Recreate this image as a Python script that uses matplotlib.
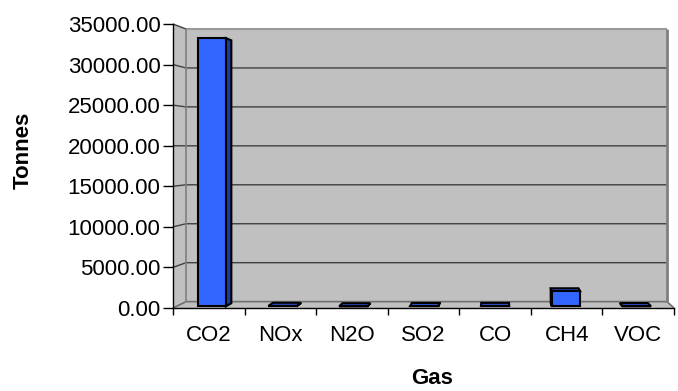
import matplotlib
matplotlib.use("Agg")
import matplotlib.pyplot as plt
from matplotlib.patches import Polygon
import numpy as np

plt.rcParams["font.family"] = ["Liberation Sans", "DejaVu Sans"]

# Emissions by gas (tonnes)
gases = ["CO2", "NOx", "N2O", "SO2", "CO", "CH4", "VOC"]
tonnes = [33400, 60, 5, 40, 50, 1900, 20]
y_ticks = [0, 5000, 10000, 15000, 20000, 25000, 30000, 35000]

W, H = 678, 391
fig = plt.figure(figsize=(W / 100, H / 100), dpi=100)
fig.patch.set_facecolor("white")
ax = fig.add_axes([173 / W, (H - 308) / H, 501 / W, 284 / H])
x_lo, x_hi = -0.5, len(gases) - 0.5
y_lo, y_hi = y_ticks[0], y_ticks[-1]
ax.set_xlim(x_lo, x_hi)
ax.set_ylim(y_lo, y_hi)
ax.patch.set_visible(False)

# simple perspective: points recede toward a vanishing point (data coords)
VX, VY = 4.04, 19600
S_WALL = 0.96      # depth of back wall
S_BAR_F = 0.99     # bar front face depth
S_BAR_B = 0.97     # bar back face depth


def proj(x, y, s):
    return (VX + s * (x - VX), VY + s * (y - VY))


def poly(pts, **kw):
    p = Polygon(pts, closed=True, transform=ax.transData, clip_on=False, **kw)
    ax.add_patch(p)
    return p


def line(pts, **kw):
    xs, ys = zip(*pts)
    ax.plot(xs, ys, clip_on=False, solid_capstyle="butt", **kw)


wall = "#C0C0C0"
# side wall, back wall, floor
poly([proj(x_lo, y_lo, 1), proj(x_lo, y_hi, 1), proj(x_lo, y_hi, S_WALL),
      proj(x_lo, y_lo, S_WALL)], fc=wall, ec="none", zorder=1)
poly([proj(x_lo, y_lo, S_WALL), proj(x_hi, y_lo, S_WALL),
      proj(x_hi, y_hi, S_WALL), proj(x_lo, y_hi, S_WALL)], fc=wall, ec="none", zorder=1)
poly([proj(x_lo, y_lo, 1), proj(x_hi, y_lo, 1), proj(x_hi, y_lo, S_WALL),
      proj(x_lo, y_lo, S_WALL)], fc=wall, ec="none", zorder=1)

# gridlines on side and back walls
for v in y_ticks[1:-1]:
    line([proj(x_lo, v, 1), proj(x_lo, v, S_WALL), proj(x_hi, v, S_WALL)],
         color="#404040", lw=1.0, zorder=2)
line([proj(x_lo, y_lo, 1), proj(x_lo, y_lo, S_WALL), proj(x_hi, y_lo, S_WALL),
      proj(x_hi, y_lo, 1)], color="#707070", lw=1.2, zorder=2)
# wall outline
line([proj(x_lo, y_hi, 1), proj(x_lo, y_hi, S_WALL)], color="#404040", lw=1.0, zorder=2)
line([proj(x_lo, y_hi, S_WALL), proj(x_hi, y_hi, S_WALL)], color="#9A9A9A", lw=1.5, zorder=2)
line([proj(x_hi, y_hi, S_WALL), proj(x_hi, y_lo, S_WALL)], color="#808080", lw=2.0, zorder=2)
line([proj(x_lo, y_hi, S_WALL), proj(x_lo, y_lo, S_WALL)], color="#808080", lw=1.2, zorder=2)

# 3-D columns
front_c, side_c, top_c = "#3366FF", "#1F3A99", "#2A55D9"
half = 0.2
edge_w = 1.5
for i, v in enumerate(tonnes):
    x0, x1 = i - half, i + half
    if x1 < VX:
        poly([proj(x1, 0, S_BAR_F), proj(x1, 0, S_BAR_B), proj(x1, v, S_BAR_B),
              proj(x1, v, S_BAR_F)], fc=side_c, ec="black", lw=edge_w, zorder=4)
    if x0 > VX:
        poly([proj(x0, 0, S_BAR_F), proj(x0, 0, S_BAR_B), proj(x0, v, S_BAR_B),
              proj(x0, v, S_BAR_F)], fc=side_c, ec="black", lw=edge_w, zorder=4)
    if v < VY:
        poly([proj(x0, v, S_BAR_F), proj(x1, v, S_BAR_F), proj(x1, v, S_BAR_B),
              proj(x0, v, S_BAR_B)], fc=top_c, ec="black", lw=edge_w, zorder=4)
    poly([proj(x0, 0, S_BAR_F), proj(x1, 0, S_BAR_F), proj(x1, v, S_BAR_F),
          proj(x0, v, S_BAR_F)], fc=front_c, ec="black", lw=edge_w, zorder=5)

# axes, ticks and labels
for side in ("top", "right"):
    ax.spines[side].set_visible(False)
for side in ("left", "bottom"):
    ax.spines[side].set_color("black")
    ax.spines[side].set_linewidth(1.0)
    ax.spines[side].set_zorder(6)

ax.set_yticks(y_ticks)
ax.set_yticklabels([f"{t:.2f}" for t in y_ticks])
ax.tick_params(axis="y", direction="out", length=7, width=1, pad=2,
               labelsize=16, colors="black")

ax.set_xticks(np.arange(x_lo, x_hi + 0.01, 1.0))
ax.set_xticklabels([])
ax.set_xticks(range(len(gases)), minor=True)
ax.set_xticklabels(gases, minor=True)
ax.tick_params(axis="x", which="major", direction="out", length=5, width=1)
ax.tick_params(axis="x", which="minor", length=0, pad=12, labelsize=16)

fig.text(23 / W, 1 - 150 / H, "Tonnes", rotation=90, ha="center", va="center",
         fontsize=16, fontweight="bold")
fig.text(432 / W, 1 - 379 / H, "Gas", ha="center", va="center",
         fontsize=16, fontweight="bold")

fig.savefig("out.png", dpi=100, facecolor="white")
